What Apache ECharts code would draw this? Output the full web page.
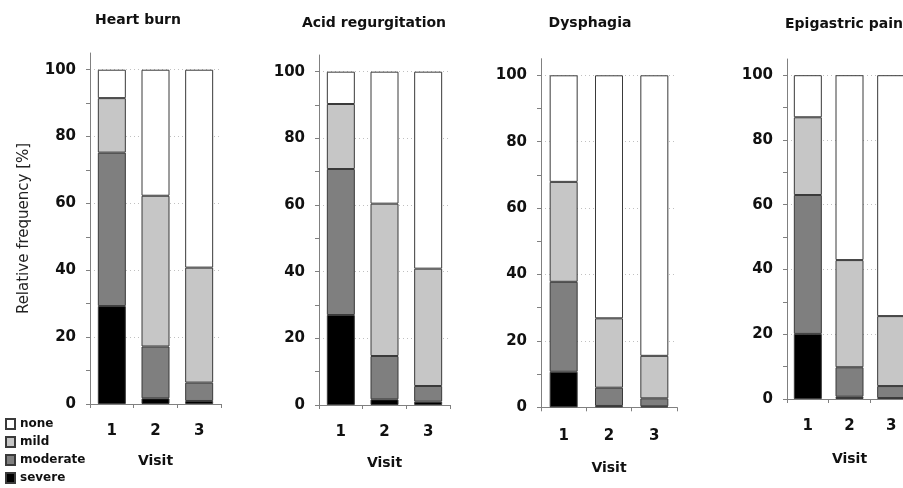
<!DOCTYPE html>
<html>
<head>
<meta charset="utf-8">
<script src="https://cdn.jsdelivr.net/npm/echarts@6/dist/echarts.min.js"></script>
<style>
html,body{margin:0;padding:0;background:#fff;overflow:hidden;}
#chart{width:960px;height:488px;}
</style>
</head>
<body>
<div id="chart"></div>
<script>
// ---- data ----
const categories = ['1', '2', '3'];
const panelTitles = ['Heart burn', 'Acid regurgitation', 'Dysphagia', 'Epigastric pain'];
const levelNames = ['severe', 'moderate', 'mild', 'none'];
const legendOrder = ['none', 'mild', 'moderate', 'severe'];
// one row per panel (Heart burn, Acid regurgitation, Dysphagia, Epigastric pain), one value per visit
const severeVals   = [[29.3, 1.7, 0.9], [27.0, 1.7, 1.0], [10.7, 0.4, 0.3], [20.1, 0.7, 0.3]];
const moderateVals = [[45.9, 15.5, 5.5], [43.8, 13.0, 4.7], [27.1, 5.5, 2.4], [42.9, 9.1, 3.7]];
const mildVals     = [[16.3, 45.1, 34.4], [19.5, 45.7, 35.2], [30.1, 20.9, 12.8], [24.0, 33.1, 21.6]];
const noneVals     = [[8.5, 37.7, 59.2], [9.7, 39.6, 59.1], [32.1, 73.2, 84.5], [13.0, 57.1, 74.4]];
const yTickValues  = [0, 10, 20, 30, 40, 50, 60, 70, 80, 90, 100];
const yLabelValues = [0, 20, 40, 60, 80, 100];
const yGridValues  = [20, 40, 60, 80, 100];
const yAxisName = 'Relative frequency [%]';
const xAxisName = 'Visit';

// ---- layout / style ----
const FONT = 'DejaVu Sans';
const grids = [
  {left: 90,  top: 53,   width: 131, height: 351},
  {left: 319, top: 55,   width: 131, height: 350},
  {left: 541, top: 58.7, width: 136, height: 348.6},
  {left: 787, top: 59,   width: 125, height: 340}
];
const xNameGaps = [50, 51, 54, 53];
const xLabelMargins = [20, 20, 21, 20];
const titlePos = [
  {left: 138, top: 13, align: 'center'},
  {left: 374, top: 16, align: 'center'},
  {left: 590, top: 16, align: 'center'},
  {left: 785, top: 17, align: 'left'}
];
const levelColors = {severe: '#000000', moderate: '#7f7f7f', mild: '#c6c6c6', none: '#ffffff'};
const levelData = {severe: severeVals, moderate: moderateVals, mild: mildVals, none: noneVals};
const axisGray = '#808080';

const option = {
  animation: false,
  backgroundColor: '#ffffff',
  title: panelTitles.map((t, i) => ({
    text: t,
    left: titlePos[i].left,
    top: titlePos[i].top,
    textAlign: titlePos[i].align,
    padding: 0,
    textStyle: {fontFamily: FONT, fontSize: 14, fontWeight: 'bold', color: '#111'}
  })),
  legend: {
    orient: 'vertical',
    left: 5,
    top: 418,
    padding: 0,
    itemWidth: 9,
    itemHeight: 10,
    itemGap: 6,
    icon: 'rect',
    data: legendOrder,
    textStyle: {fontFamily: FONT, fontSize: 12, fontWeight: 'bold', color: '#111'}
  },
  grid: grids.map(g => Object.assign({containLabel: false}, g)),
  xAxis: grids.map((g, i) => ({
    type: 'category',
    gridIndex: i,
    data: categories,
    name: xAxisName,
    nameLocation: 'middle',
    nameGap: xNameGaps[i],
    nameTextStyle: {fontFamily: FONT, fontSize: 14, fontWeight: 'bold', color: '#111'},
    axisLine: {lineStyle: {color: axisGray, width: 1}},
    axisTick: {show: true, length: 4, lineStyle: {color: axisGray}},
    axisLabel: {fontFamily: FONT, fontSize: 15, fontWeight: 'bold', color: '#111', margin: xLabelMargins[i]},
    splitLine: {show: false}
  })),
  yAxis: [],
  series: []
};

grids.forEach((g, i) => {
  option.yAxis.push({
    type: 'value',
    gridIndex: i,
    min: 0,
    max: 105,
    position: 'left',
    name: i === 0 ? yAxisName : '',
    nameLocation: 'middle',
    nameGap: 58,
    nameTextStyle: {fontFamily: FONT, fontSize: 15, color: '#222'},
    axisLine: {show: true, lineStyle: {color: axisGray, width: 1}},
    axisTick: {show: true, length: 4, customValues: yTickValues, lineStyle: {color: axisGray}},
    axisLabel: {customValues: yLabelValues, fontFamily: FONT, fontSize: 15, fontWeight: 'bold', color: '#111', margin: 14},
    splitLine: {show: false}
  });
  option.yAxis.push({
    type: 'value',
    gridIndex: i,
    min: 0,
    max: 105,
    position: 'left',
    axisLine: {show: false},
    axisTick: {show: false, customValues: yGridValues},
    axisLabel: {show: false, customValues: yGridValues},
    splitLine: {show: true, lineStyle: {color: '#c0c0c0', type: [1, 3], width: 1}}
  });
  levelNames.forEach(lv => {
    option.series.push({
      type: 'bar',
      name: lv,
      xAxisIndex: i,
      yAxisIndex: 2 * i,
      stack: 'panel' + i,
      barWidth: 28,
      data: levelData[lv][i],
      itemStyle: {color: levelColors[lv], borderColor: '#3a3a3a', borderWidth: 1},
      emphasis: {disabled: true}
    });
  });
});

const chart = echarts.init(document.getElementById('chart'), null, {renderer: 'canvas'});
chart.setOption(option);
</script>
</body>
</html>
